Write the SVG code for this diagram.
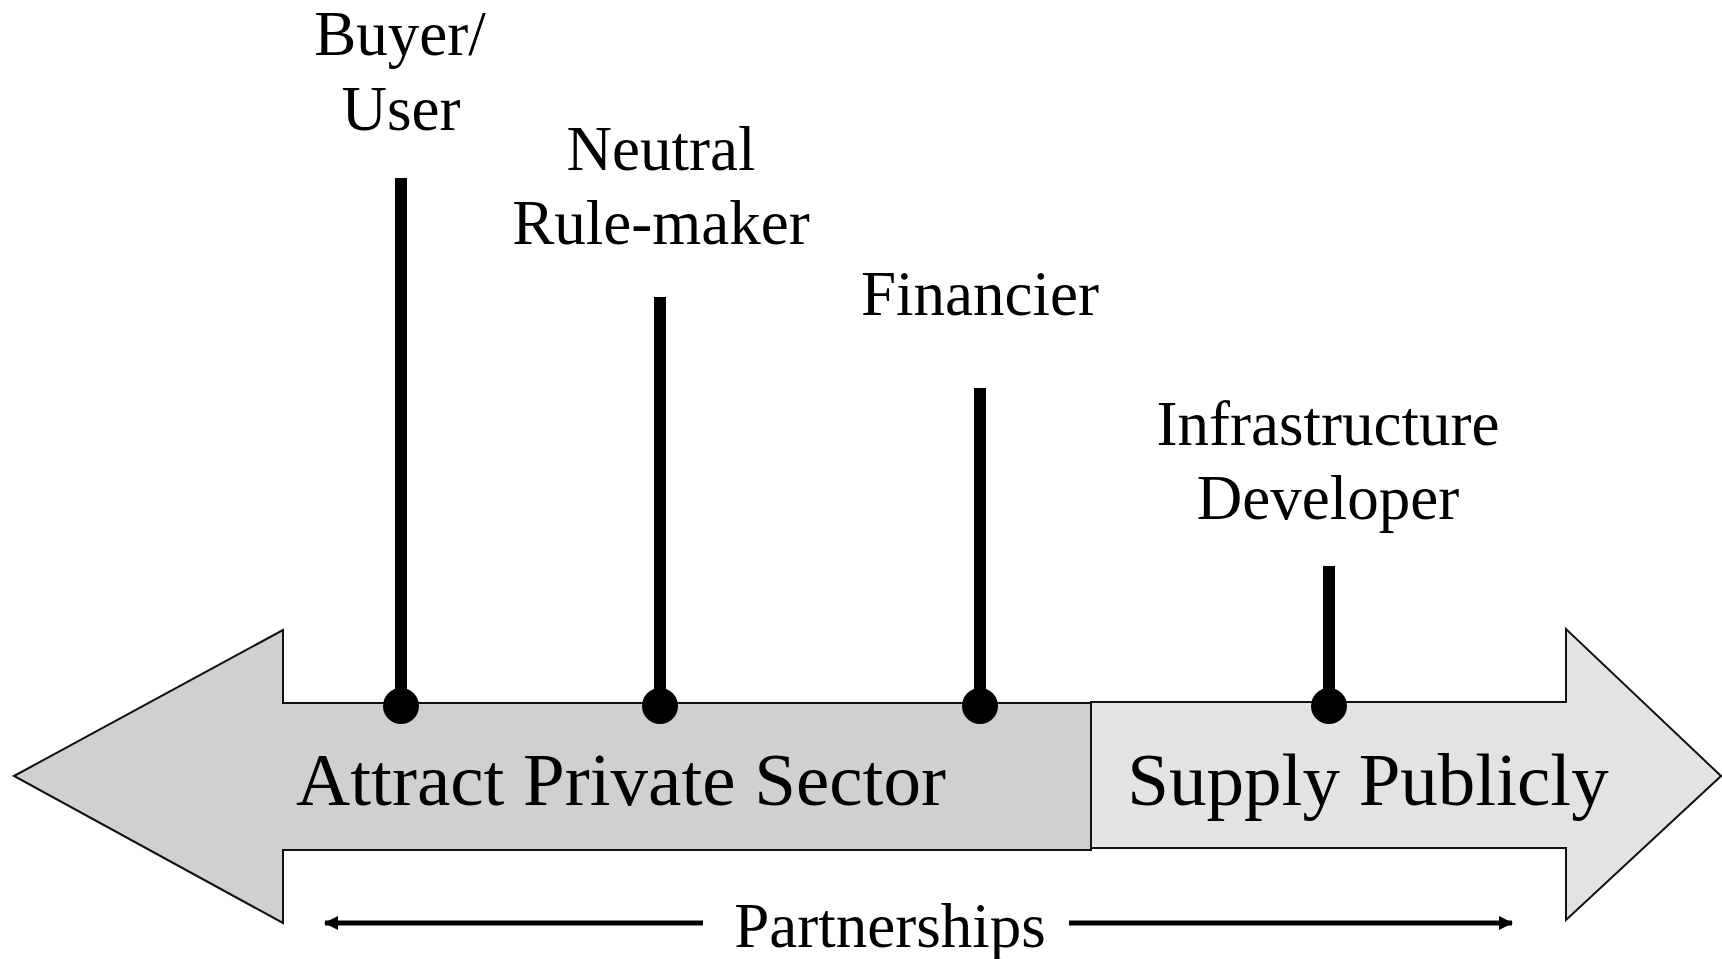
<svg xmlns="http://www.w3.org/2000/svg" width="1722" height="959" viewBox="0 0 1722 959">
  <defs>
    <style>
      .lbl { font-family: "Liberation Serif", "Times New Roman", serif; fill: #000; text-anchor: middle; }
      .role { font-size: 63px; }
      .band { font-size: 75px; }
      .stem { stroke: #000; stroke-width: 12; }
      .dot { fill: #000; }
      .shape { stroke: #111; stroke-width: 2; stroke-linejoin: miter; }
      .span { stroke: #000; stroke-width: 5; fill: none; }
    </style>
    <marker id="head" viewBox="0 0 14 14" refX="13" refY="7" markerWidth="14" markerHeight="14" markerUnits="userSpaceOnUse" orient="auto">
      <path d="M0,0 L14,7 L0,14 Z" fill="#000"/>
    </marker>
  </defs>

  <rect width="1722" height="959" fill="#fff"/>

  <!-- Double-headed band -->
  <g id="attract-private-sector">
    <polygon class="shape" fill="#d0d0d0" points="14,776 283,630 283,703 1091,703 1091,850 283,850 283,923"/>
    <text class="lbl band" x="621" y="805">Attract Private Sector</text>
  </g>
  <g id="supply-publicly">
    <polygon class="shape" fill="#e3e3e3" points="1091,702 1566,702 1566,629 1721,776 1566,920 1566,848 1091,848"/>
    <text class="lbl band" x="1368" y="805">Supply Publicly</text>
  </g>

  <!-- Role markers -->
  <g id="buyer-user">
    <line class="stem" x1="401" y1="178" x2="401" y2="706"/>
    <circle class="dot" cx="401" cy="706" r="18"/>
    <text class="lbl role" x="400" y="55">Buyer/</text>
    <text class="lbl role" x="401" y="130">User</text>
  </g>
  <g id="neutral-rule-maker">
    <line class="stem" x1="660" y1="297" x2="660" y2="706"/>
    <circle class="dot" cx="660" cy="706" r="18"/>
    <text class="lbl role" x="661" y="170">Neutral</text>
    <text class="lbl role" x="661" y="244">Rule-maker</text>
  </g>
  <g id="financier">
    <line class="stem" x1="980" y1="388" x2="980" y2="706"/>
    <circle class="dot" cx="980" cy="706" r="18"/>
    <text class="lbl role" x="980" y="315">Financier</text>
  </g>
  <g id="infrastructure-developer">
    <line class="stem" x1="1329" y1="566" x2="1329" y2="706"/>
    <circle class="dot" cx="1329" cy="706" r="18"/>
    <text class="lbl role" x="1328" y="445">Infrastructure</text>
    <text class="lbl role" x="1328" y="519">Developer</text>
  </g>

  <!-- Partnerships span -->
  <g id="connectors">
    <line class="span" x1="703" y1="923" x2="325" y2="923" marker-end="url(#head)"/>
    <line class="span" x1="1069" y1="923" x2="1512" y2="923" marker-end="url(#head)"/>
  </g>
  <g id="partnerships">
    <text class="lbl role" x="890" y="947">Partnerships</text>
  </g>
</svg>
